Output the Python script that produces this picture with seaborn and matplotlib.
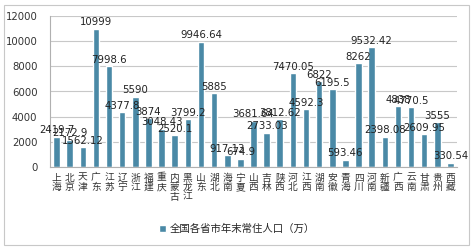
import matplotlib
matplotlib.use("Agg")
import matplotlib.pyplot as plt
import seaborn as sns
import pandas as pd
from matplotlib.patches import Rectangle

provinces = ["上海", "北京", "天津", "广东", "江苏", "辽宁", "浙江", "福建", "重庆", "内蒙古",
             "黑龙江", "山东", "湖北", "海南", "宁夏", "山西", "吉林", "陕西", "河北", "江西",
             "湖南", "安徽", "青海", "四川", "河南", "新疆", "广西", "云南", "甘肃", "贵州", "西藏"]
population = [2419.7, 2172.9, 1562.12, 10999, 7998.6, 4377.8, 5590, 3874, 3048.43, 2520.1,
              3799.2, 9946.64, 5885, 917.13, 674.9, 3681.64, 2733.03, 3812.62, 7470.05, 4592.3,
              6822, 6195.5, 593.46, 8262, 9532.42, 2398.08, 4838, 4770.5, 2609.95, 3555, 330.54]
value_labels = ["2419.7", "2172.9", "1562.12", "10999", "7998.6", "4377.8", "5590", "3874", "3048.43", "2520.1",
                "3799.2", "9946.64", "5885", "917.13", "674.9", "3681.64", "2733.03", "3812.62", "7470.05", "4592.3",
                "6822", "6195.5", "593.46", "8262", "9532.42", "2398.08", "4838", "4770.5", "2609.95", "3555", "330.54"]
y_ticks = [0, 2000, 4000, 6000, 8000, 10000, 12000]
series_name = "全国各省市年末常住人口（万）"

sns.set_theme(style="white")
plt.rcParams['font.family'] = ['Noto Sans CJK SC', 'DejaVu Sans']

color = "#4a89a6"
df = pd.DataFrame({"province": provinces, "population": population})

fig = plt.figure(figsize=(4.74, 2.49), dpi=100)
ax = fig.add_axes([50/474, 1 - 167/249, (457-50)/474, (167-16)/249])

sns.barplot(data=df, x="province", y="population", color=color, width=0.5,
            ax=ax, saturation=1, label=series_name)

ax.set_ylim(0, 12000)
ax.set_yticks(y_ticks)
ax.set_yticklabels([str(t) for t in y_ticks], fontsize=7.3, color="#333333",
                   family=['DejaVu Sans'])
ax.yaxis.grid(True, color="#c8c8c8", linewidth=0.8)
ax.set_axisbelow(True)
ax.tick_params(axis='y', length=0, pad=9)
ax.tick_params(axis='x', length=0, pad=4)
ax.set_xlim(-0.5, len(provinces) - 0.5)
ax.set_xticks(range(len(provinces)))
ax.set_xticklabels(["\n".join(p) for p in provinces], fontsize=7, color="#333333",
                   linespacing=0.95, va="top")
ax.set_xlabel("")
ax.set_ylabel("")
for s in ["top", "right"]:
    ax.spines[s].set_visible(False)
ax.spines["left"].set_color("#b0b0b0")
ax.spines["bottom"].set_color("#b0b0b0")
ax.spines["left"].set_linewidth(0.8)
ax.spines["bottom"].set_linewidth(0.8)

ax.bar_label(ax.containers[0], labels=value_labels, fontsize=7.3, color="#222222", padding=1,
             family=['DejaVu Sans'])

if ax.get_legend():
    ax.get_legend().remove()
handles, labels = ax.get_legend_handles_labels()
fig.legend(handles[:1], [series_name], loc="center", bbox_to_anchor=(0.5, 1 - 229/249),
           frameon=False, fontsize=7.5, handlelength=0.7, handleheight=0.7, handletextpad=0.4)

fig.patches.append(Rectangle((4/474, 4/249), 465/474, 240/249, transform=fig.transFigure,
                             fill=False, edgecolor="#c8c8c8", linewidth=0.8))

fig.savefig("out.png", dpi=100)
